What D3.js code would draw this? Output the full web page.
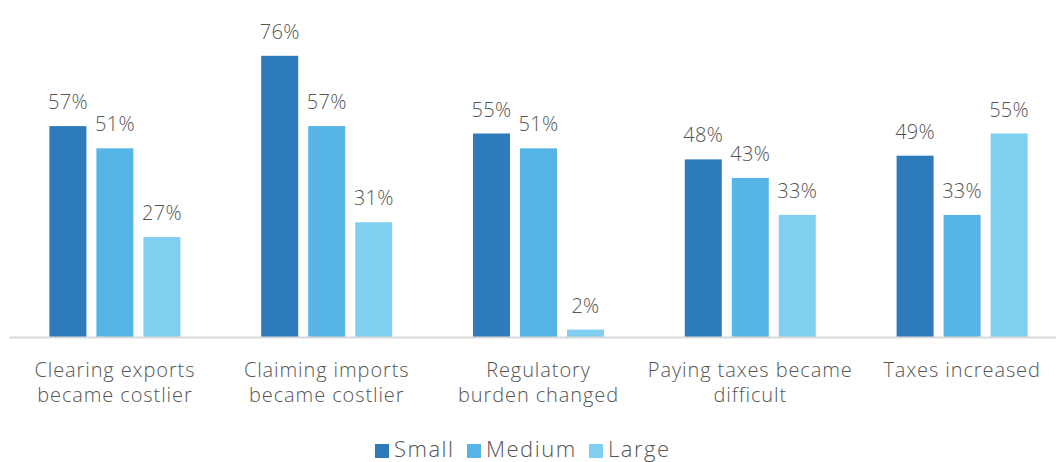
<!DOCTYPE html>
<html>
<head>
<meta charset="utf-8">
<script src="https://cdn.jsdelivr.net/npm/d3@7"></script>
<style>
  html, body { margin: 0; padding: 0; background: #fff; }
  svg { display: block; }
  text { font-family: "Open Sans", Lato, sans-serif; font-weight: 300; fill: #555; }
</style>
</head>
<body>
<svg id="chart" width="1056" height="462"></svg>
<script>
// Survey results by firm size (percent of respondents)
const categories = [
  ["Clearing exports", "became costlier"],
  ["Claiming imports", "became costlier"],
  ["Regulatory", "burden changed"],
  ["Paying taxes became", "difficult"],
  ["Taxes increased"]
];
const seriesNames = ["Small", "Medium", "Large"];
const small  = [57, 76, 55, 48, 49];
const medium = [51, 57, 51, 43, 33];
const large  = [27, 31, 2, 33, 55];
const colors = ["#2d7bba", "#56b5e6", "#80cff0"];

const series = [small, medium, large];
const svg = d3.select("#chart");

const baseY = 337;
const x0 = d3.scaleBand()
  .domain(d3.range(categories.length))
  .range([9, 1068])
  .paddingInner(0).paddingOuter(0);

const barW = 37, barStep = 47;
const x1 = d3.scaleBand()
  .domain(d3.range(seriesNames.length))
  .range([-barStep * 1.5, barStep * 1.5]);

const y = d3.scaleLinear().domain([0, 100]).range([baseY, baseY - 370]);

// bars and value labels
series.forEach((vals, si) => {
  svg.append("g").selectAll("rect")
    .data(vals)
    .join("rect")
    .attr("x", (d, i) => x0(i) + x0.bandwidth() / 2 + x1(si) + (barStep - barW) / 2)
    .attr("y", d => y(d))
    .attr("width", barW)
    .attr("height", d => baseY - y(d))
    .attr("fill", colors[si]);

  svg.append("g").selectAll("text")
    .data(vals)
    .join("text")
    .attr("x", (d, i) => x0(i) + x0.bandwidth() / 2 + x1(si) + barStep / 2)
    .attr("y", d => y(d) - 17)
    .attr("text-anchor", "middle")
    .style("font-size", "20px")
    .style("letter-spacing", "0.3px")
    .text(d => d + "%");
});

// category axis
const axis = svg.append("g").attr("transform", `translate(0,${baseY})`)
  .call(d3.axisBottom(x0).tickSize(0).tickFormat(""));
axis.select(".domain").attr("stroke", "#d9d9d9").attr("stroke-width", 2);

const catG = svg.append("g");
categories.forEach((lines, i) => {
  const t = catG.append("text")
    .attr("x", x0(i) + x0.bandwidth() / 2)
    .attr("y", 377)
    .attr("text-anchor", "middle")
    .style("font-size", "20px")
    .style("letter-spacing", "0.9px");
  lines.forEach((ln, k) => {
    t.append("tspan")
      .attr("x", x0(i) + x0.bandwidth() / 2)
      .attr("dy", k === 0 ? 0 : 25)
      .text(ln);
  });
});

// legend
const legendX = [375, 467, 589];
const lg = svg.append("g");
seriesNames.forEach((name, i) => {
  lg.append("rect")
    .attr("x", legendX[i]).attr("y", 444)
    .attr("width", 14).attr("height", 14)
    .attr("fill", colors[i]);
  lg.append("text")
    .attr("x", legendX[i] + 19).attr("y", 457)
    .style("font-size", "22px")
    .style("letter-spacing", "1.5px")
    .text(name);
});
</script>
</body>
</html>
